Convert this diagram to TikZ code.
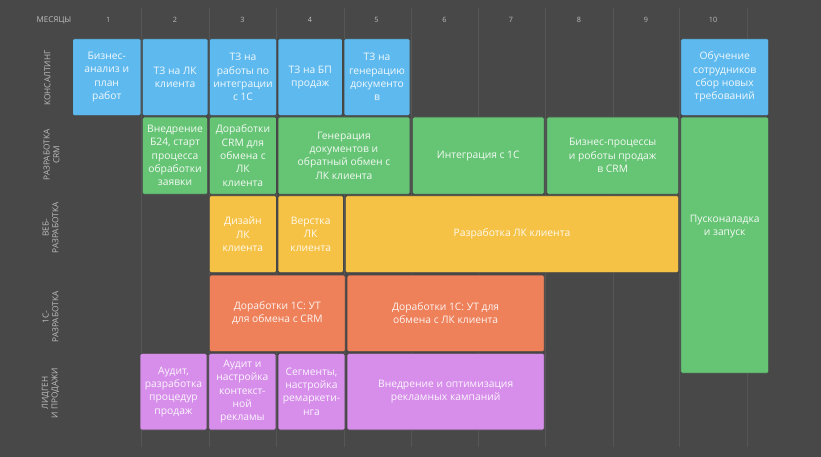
\documentclass[tikz,border=0pt]{standalone}
\usepackage{fontspec}
\setmainfont{Open Sans}
\definecolor{bg}{RGB}{72,72,72}
\definecolor{gridc}{RGB}{86,86,86}
\definecolor{lbl}{RGB}{190,190,190}
\definecolor{cblue}{RGB}{94,185,238}
\definecolor{cgreen}{RGB}{102,196,117}
\definecolor{cyellow}{RGB}{246,194,70}
\definecolor{corange}{RGB}{238,128,90}
\definecolor{cpurple}{RGB}{214,142,234}
\definecolor{edge}{RGB}{70,70,70}
\newcommand\gbox[7]{%
  \node[taskbox, fill=#6, minimum width={(#4-#2)*1pt}, minimum height={(#5-#3)*1pt}]
    (#1) at ({(#2+#4)/2},{(#3+#5)/2}) {#7};}
\begin{document}
\begin{tikzpicture}[x=1pt,y=-1pt,
  taskbox/.style={draw=edge, line width=0.7pt, rounded corners=1.5pt, inner sep=0pt,
     align=center, text=white, text opacity=0.92,
     font=\fontsize{10.3}{13.3}\selectfont},
  rowlbl/.style={rotate=90, align=center, text=lbl, font=\fontsize{8.3}{9.8}\selectfont},
  hdr/.style={text=lbl, font=\fontsize{8}{9}\selectfont},
  gridline/.style={draw=gridc, line width=0.8pt}]
\fill[bg] (0,0) rectangle (821,457);
\useasboundingbox (0,0) rectangle (821,457);
% grid lines
\foreach \gx [count=\i] in {141.7,209,276.5,344,411.5,478,545,613,679.5,747} {
  \coordinate (gt\i) at (\gx,8);
  \coordinate (gb\i) at (\gx,447);
  \draw[gridline] (gt\i) -- (gb\i);
}
% header
\node[hdr] (months) at (54,20.7) {МЕСЯЦЫ};
\foreach \cx [count=\i] in {108.3,175,242.5,310,376.5,444.5,511,579,646,713} {
  \node[hdr, font=\fontsize{7.3}{8}\selectfont] (m\i) at (\cx,20.3) {\i};
}
% row labels
\node[rowlbl] (r1) at (47.5,78) {КОНСАЛТИНГ};
\node[rowlbl] (r2) at (51.5,155) {РАЗРАБОТКА\\CRM};
\node[rowlbl] (r3) at (50.5,228) {ВЕБ-\\РАЗРАБОТКА};
\node[rowlbl] (r4) at (50.5,317) {1С-\\РАЗРАБОТКА};
\node[rowlbl] (r5) at (50.5,393) {ЛИДГЕН\\И ПРОДАЖИ};
% row 1
\gbox{a1}{72.5}{38.7}{141}{115.7}{cblue}{Бизнес-\\анализ и\\план\\работ}
\gbox{a2}{142.3}{38.7}{208}{115.7}{cblue}{ТЗ на ЛК\\клиента}
\gbox{a3}{209.3}{38.7}{276.7}{115.7}{cblue}{ТЗ на\\работы по\\интеграции\\с 1С}
\gbox{a4}{278}{38.7}{342.5}{115.7}{cblue}{ТЗ на БП\\продаж}
\gbox{a5}{344}{38.7}{410}{115.7}{cblue}{ТЗ на\\генерацию\\документо\\в}
\gbox{a10}{680.7}{38.7}{768.7}{115.7}{cblue}{Обучение\\сотрудников\\сбор новых\\требований}
% row 2
\gbox{b2}{142.3}{117}{207.7}{194.3}{cgreen}{Внедрение\\Б24, старт\\процесса\\обработки\\заявки}
\gbox{b3}{209.3}{117}{276.5}{194.3}{cgreen}{Доработки\\CRM для\\обмена с\\ЛК\\клиента}
\gbox{b45}{278}{117}{410}{194.3}{cgreen}{Генерация\\документов и\\обратный обмен с\\ЛК клиента}
\gbox{b67}{412.3}{117}{544.3}{194.3}{cgreen}{Интеграция с 1С}
\gbox{b89}{546.7}{117}{678.7}{194.3}{cgreen}{Бизнес-процессы\\и роботы продаж\\в CRM}
\gbox{b10}{680.7}{117}{768.7}{373.3}{cgreen}{}
\node[align=center, text=white, text opacity=0.92, font=\fontsize{10.3}{13.3}\selectfont]
  (b10t) at (724.7,226.5) {Пусконаладка\\и запуск};
% row 3
\gbox{c3}{209.3}{195.7}{276.5}{272.7}{cyellow}{Дизайн\\ЛК\\клиента}
\gbox{c4}{278}{195.7}{343.5}{272.7}{cyellow}{Верстка\\ЛК\\клиента}
\gbox{c59}{345.3}{195.7}{678.7}{272.7}{cyellow}{Разработка ЛК клиента}
% row 4
\gbox{d34}{209.3}{275}{345.3}{351.7}{corange}{Доработки 1С: УТ\\для обмена с CRM}
\gbox{d56}{347}{275}{544.3}{351.7}{corange}{Доработки 1С: УТ для\\обмена с ЛК клиента}
% row 5
\gbox{e2}{140}{353.3}{207}{430}{cpurple}{Аудит,\\разработка\\процедур\\продаж}
\gbox{e3}{208.7}{353.3}{276}{430}{cpurple}{Аудит и\\настройка\\контекст-\\ной\\рекламы}
\gbox{e4}{278}{353.3}{345}{430}{cpurple}{Сегменты,\\настройка\\ремаркети-\\нга}
\gbox{e57}{347}{353.3}{544.3}{430}{cpurple}{Внедрение и оптимизация\\рекламных кампаний}
\end{tikzpicture}
\end{document}
